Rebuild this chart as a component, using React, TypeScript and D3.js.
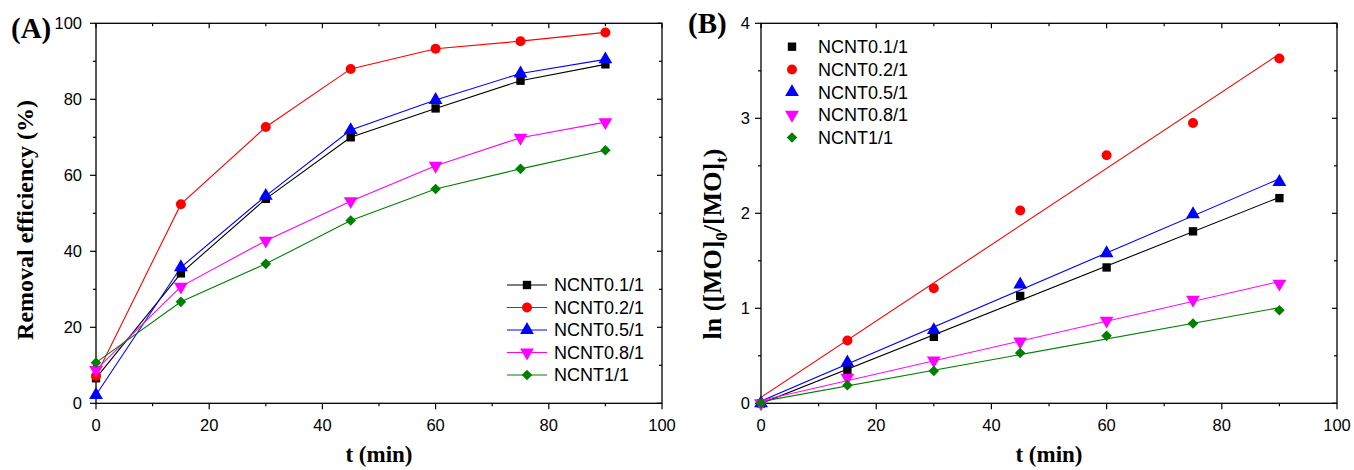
import React from "react";
import * as d3 from "d3";

// ---------- data ----------
const times = [0, 15, 30, 45, 60, 75, 90];
const seriesNames = ["NCNT0.1/1", "NCNT0.2/1", "NCNT0.5/1", "NCNT0.8/1", "NCNT1/1"];
const seriesColors = ["#000000", "#ff0000", "#0000ff", "#ff00ff", "#008000"];
const seriesShapes = ["square", "circle", "triangleUp", "triangleDown", "diamond"];

// Panel A: removal efficiency (%)
const removal01 = [6.6, 34.2, 53.8, 70.0, 77.6, 84.9, 89.2];
const removal02 = [7.2, 52.4, 72.7, 88.0, 93.3, 95.3, 97.6];
const removal05 = [2.2, 35.8, 54.6, 71.9, 79.8, 86.8, 90.5];
const removal08 = [8.8, 30.7, 42.8, 53.2, 62.5, 69.9, 74.0];
const removal11 = [10.7, 26.7, 36.7, 48.1, 56.4, 61.7, 66.6];

// Panel B: ln([MO]0/[MO]t)
const ln01 = [0, 0.35, 0.70, 1.13, 1.43, 1.81, 2.16];
const ln02 = [0, 0.66, 1.21, 2.03, 2.61, 2.95, 3.63];
const ln05 = [0, 0.43, 0.77, 1.25, 1.58, 1.99, 2.33];
const ln08 = [0, 0.27, 0.45, 0.65, 0.87, 1.09, 1.26];
const ln11 = [0, 0.19, 0.34, 0.53, 0.71, 0.84, 0.98];

const xTicks = [0, 20, 40, 60, 80, 100];
const xMinor = [10, 30, 50, 70, 90];
const yTicksA = [0, 20, 40, 60, 80, 100];
const yMinorA = [10, 30, 50, 70, 90];
const yTicksB = [0, 1, 2, 3, 4];
const yMinorB = [0.5, 1.5, 2.5, 3.5];

const removalData = [removal01, removal02, removal05, removal08, removal11];
const lnData = [ln01, ln02, ln05, ln08, ln11];

const SANS = "'Liberation Sans', Arial, sans-serif";
const SERIF = "'Liberation Serif', 'Times New Roman', serif";

function markerPath(shape: string): { d: string; rot: number } {
  switch (shape) {
    case "square":
      return { d: d3.symbol(d3.symbolSquare, 70)() as string, rot: 0 };
    case "circle":
      return { d: d3.symbol(d3.symbolCircle, 78)() as string, rot: 0 };
    case "triangleUp":
      return { d: d3.symbol(d3.symbolTriangle, 82)() as string, rot: 0 };
    case "triangleDown":
      return { d: d3.symbol(d3.symbolTriangle, 82)() as string, rot: 180 };
    default:
      return { d: d3.symbol(d3.symbolSquare, 56)() as string, rot: 45 };
  }
}

function Marker({ x, y, shape, color }: { x: number; y: number; shape: string; color: string }) {
  const m = markerPath(shape);
  return <path d={m.d} transform={`translate(${x},${y}) rotate(${m.rot})`} fill={color} stroke="none" />;
}

function linFit(xs: number[], ys: number[]) {
  const mx = d3.mean(xs) as number;
  const my = d3.mean(ys) as number;
  let sxy = 0, sxx = 0;
  xs.forEach((x, i) => { sxy += (x - mx) * (ys[i] - my); sxx += (x - mx) * (x - mx); });
  const slope = sxy / sxx;
  return { slope, intercept: my - slope * mx };
}

type PanelProps = {
  left: number; right: number; top: number; bottom: number;
  yMax: number; yTicks: number[]; yMinor: number[];
  data: number[][]; mode: "lines" | "fit";
  labelGap: number;
  yFmt: (v: number) => string;
};

function Panel(p: PanelProps) {
  const x = d3.scaleLinear().domain([0, 100]).range([p.left, p.right]);
  const y = d3.scaleLinear().domain([0, p.yMax]).range([p.bottom, p.top]);
  const line = d3.line<number>().x((_, i) => x(times[i])).y((v) => y(v));
  const MAJ = 6, MIN = 3;
  return (
    <g>
      <rect x={p.left} y={p.top} width={p.right - p.left} height={p.bottom - p.top} fill="none" stroke="#000" strokeWidth={1.3} />
      {xTicks.map((t) => (
        <g key={"xt" + t}>
          <line x1={x(t)} x2={x(t)} y1={p.bottom} y2={p.bottom + MAJ} stroke="#000" strokeWidth={1.2} />
          <line x1={x(t)} x2={x(t)} y1={p.top} y2={p.top + MAJ - 1} stroke="#000" strokeWidth={1.2} />
          <text x={x(t)} y={p.bottom + 28} textAnchor="middle" fontFamily={SANS} fontSize={16.5} fill="#000">{t}</text>
        </g>
      ))}
      {xMinor.map((t) => (
        <g key={"xm" + t}>
          <line x1={x(t)} x2={x(t)} y1={p.bottom} y2={p.bottom + MIN} stroke="#000" strokeWidth={1.2} />
          <line x1={x(t)} x2={x(t)} y1={p.top} y2={p.top + MIN} stroke="#000" strokeWidth={1.2} />
        </g>
      ))}
      {p.yTicks.map((v) => (
        <g key={"yt" + v}>
          <line x1={p.left - MAJ} x2={p.left} y1={y(v)} y2={y(v)} stroke="#000" strokeWidth={1.2} />
          <line x1={p.right - MAJ + 1} x2={p.right} y1={y(v)} y2={y(v)} stroke="#000" strokeWidth={1.2} />
          <text x={p.left - p.labelGap} y={y(v)} dy="0.36em" textAnchor="end" fontFamily={SANS} fontSize={16.5} fill="#000">{p.yFmt(v)}</text>
        </g>
      ))}
      {p.yMinor.map((v) => (
        <g key={"ym" + v}>
          <line x1={p.left - MIN} x2={p.left} y1={y(v)} y2={y(v)} stroke="#000" strokeWidth={1.2} />
          <line x1={p.right - MIN} x2={p.right} y1={y(v)} y2={y(v)} stroke="#000" strokeWidth={1.2} />
        </g>
      ))}
      {p.data.map((vals, si) => {
        if (p.mode === "lines") {
          return <path key={"l" + si} d={line(vals) as string} fill="none" stroke={seriesColors[si]} strokeWidth={1.1} />;
        }
        const f = linFit(times, vals);
        const t0 = times[0], t1 = times[times.length - 1];
        return (
          <line key={"f" + si} x1={x(t0)} y1={y(f.intercept + f.slope * t0)} x2={x(t1)} y2={y(f.intercept + f.slope * t1)}
            stroke={seriesColors[si]} strokeWidth={1.1} />
        );
      })}
      {p.data.map((vals, si) => (
        <g key={"m" + si}>
          {vals.map((v, i) => (
            <Marker key={i} x={x(times[i])} y={y(v)} shape={seriesShapes[si]} color={seriesColors[si]} />
          ))}
        </g>
      ))}
      <text x={(p.left + p.right) / 2} y={p.bottom + 59} textAnchor="middle" fontFamily={SERIF} fontWeight="bold" fontSize={23} fill="#000">t (min)</text>
    </g>
  );
}

export default function App() {
  const top = 23.3, bottom = 403.3;
  const legendA = { lineX0: 507, lineX1: 547, textX: 554, y0: 285, dy: 22.5 };
  const legendB = { markX: 792, textX: 818, y0: 46.7, dy: 22.7 };
  return (
    <svg width={1354} height={470} style={{ position: "absolute", left: 0, top: 0, background: "#fff" }}>
      <rect width={1354} height={470} fill="#fff" />
      <Panel left={96} right={662} top={top} bottom={bottom} yMax={100} yTicks={yTicksA} yMinor={yMinorA}
        data={removalData} mode="lines" labelGap={14} yFmt={(v) => String(v)} />
      <Panel left={761} right={1337} top={top} bottom={bottom} yMax={4} yTicks={yTicksB} yMinor={yMinorB}
        data={lnData} mode="fit" labelGap={11} yFmt={(v) => String(v)} />

      <text x={11} y={38} fontFamily={SERIF} fontWeight="bold" fontSize={29} fill="#000">(A)</text>
      <text x={688} y={33} fontFamily={SERIF} fontWeight="bold" fontSize={29} fill="#000">(B)</text>

      <text transform="translate(33,220) rotate(-90)" textAnchor="middle" fontFamily={SERIF} fontWeight="bold" fontSize={24} fill="#000">
        Removal efficiency (%)
      </text>
      <text transform="translate(721,244) rotate(-90)" textAnchor="middle" fontFamily={SERIF} fontWeight="bold" fontSize={26} fill="#000">
        ln ([MO]<tspan dy={6} fontSize={17}>0</tspan><tspan dy={-6}>/[MO]</tspan><tspan dy={6} fontSize={17}>t</tspan><tspan dy={-6}>)</tspan>
      </text>

      {seriesNames.map((n, i) => {
        const yy = legendA.y0 + i * legendA.dy;
        return (
          <g key={"la" + i}>
            <line x1={legendA.lineX0} x2={legendA.lineX1} y1={yy} y2={yy} stroke={seriesColors[i]} strokeWidth={1.1} />
            <Marker x={(legendA.lineX0 + legendA.lineX1) / 2} y={yy} shape={seriesShapes[i]} color={seriesColors[i]} />
            <text x={legendA.textX} y={yy} dy="0.36em" fontFamily={SANS} fontSize={18} fill="#000">{n}</text>
          </g>
        );
      })}
      {seriesNames.map((n, i) => {
        const yy = legendB.y0 + i * legendB.dy;
        return (
          <g key={"lb" + i}>
            <Marker x={legendB.markX} y={yy} shape={seriesShapes[i]} color={seriesColors[i]} />
            <text x={legendB.textX} y={yy} dy="0.36em" fontFamily={SANS} fontSize={18} fill="#000">{n}</text>
          </g>
        );
      })}
    </svg>
  );
}
